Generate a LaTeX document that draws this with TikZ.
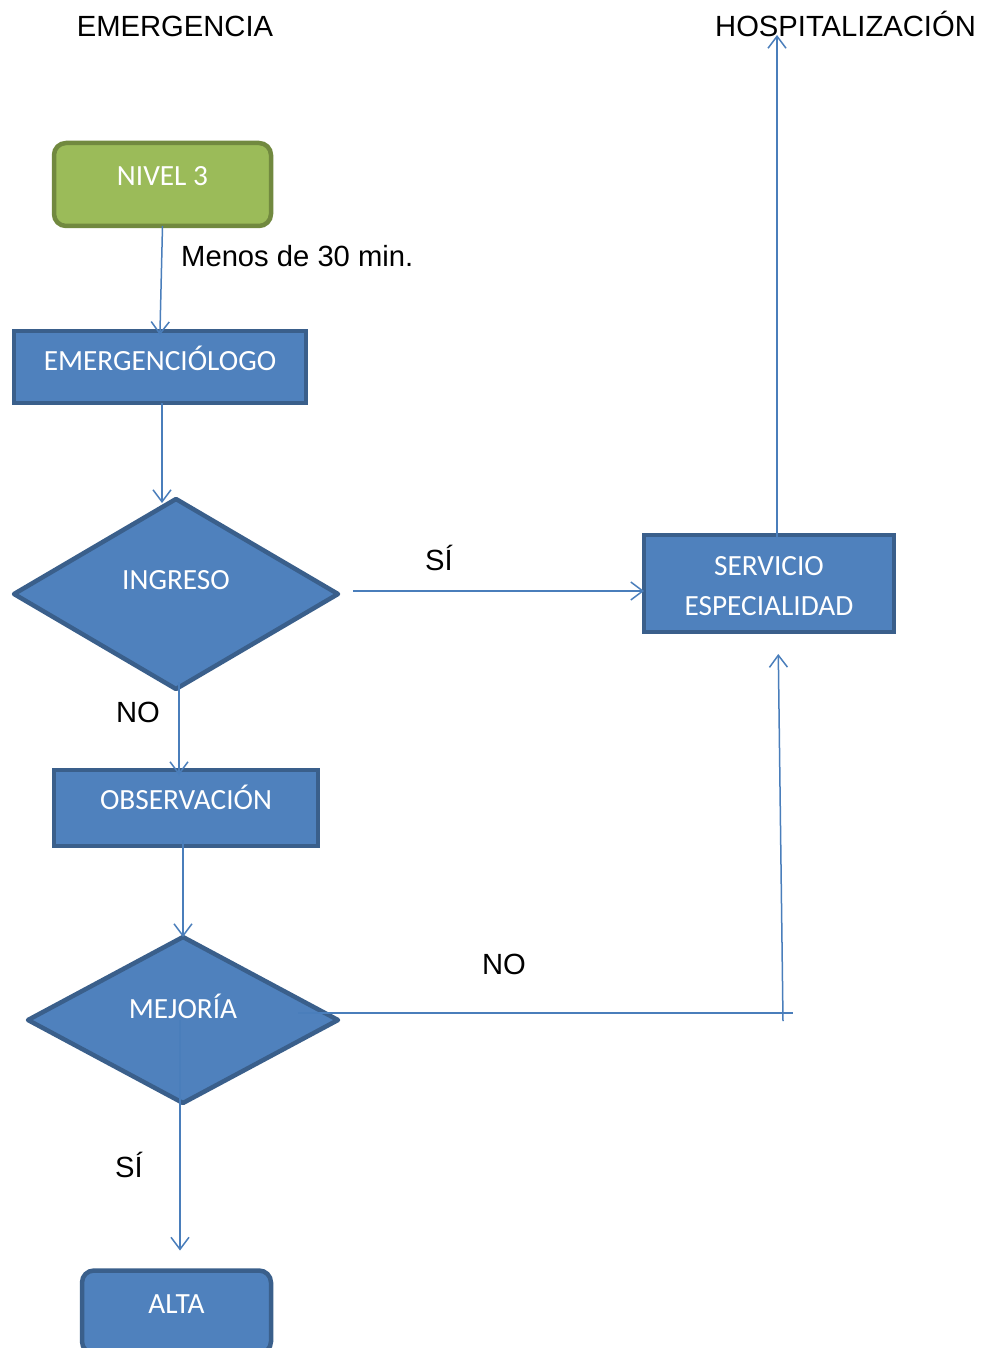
\documentclass[tikz,border=0pt]{standalone}
\usepackage{fontspec}
\setmainfont{Liberation Sans}
\newfontfamily\carlito{Carlito}
\usetikzlibrary{shapes.geometric,arrows.meta}

\definecolor{boxfill}{HTML}{4F81BD}
\definecolor{boxline}{HTML}{3A5F8B}
\definecolor{greenfill}{HTML}{9BBB59}
\definecolor{greenline}{HTML}{71893F}
\definecolor{linec}{HTML}{4A7EBB}

\tikzset{
  procbox/.style={draw=boxline, fill=boxfill, line width=4.5pt, inner sep=0pt, outer sep=0pt},
  startbox/.style={draw=greenline, fill=greenfill, line width=4.5pt, rounded corners=12pt, inner sep=0pt, outer sep=0pt},
  decision/.style={diamond, draw=boxline, fill=boxfill, line width=4.5pt, line join=round, inner sep=0pt, outer sep=0pt},
  boxtext/.style={anchor=base, text=white, inner sep=0pt, font=\carlito\fontsize{29.3}{34}\selectfont},
  plain/.style={anchor=base, inner sep=0pt, font=\fontsize{29.2}{34}\selectfont},
  conn/.style={draw=linec, line width=1.5pt, -{Straight Barb[length=12pt,width=18pt]}},
  connline/.style={draw=linec, line width=1.5pt}
}

\begin{document}
\begin{tikzpicture}[x=1pt,y=-1pt]
\useasboundingbox (0,0) rectangle (981,1348);
\clip (0,0) rectangle (981,1348);

% column headings
\node[plain] (emergencia) at (175,37) {EMERGENCIA};
\node[plain] (hosp) at (845.5,37) {HOSPITALIZACIÓN};

% shapes
\node[startbox, minimum width=217pt, minimum height=83pt] (nivel) at (162.5,184.5) {};
\node[boxtext] (nivelT) at (162.5,186) {NIVEL 3};

\node[procbox, minimum width=292pt, minimum height=72pt] (emerg) at (160,367) {};
\node[boxtext] (emergT) at (160,370) {EMERGENCIÓLOGO};

\node[decision, minimum width=324pt, minimum height=190pt] (ingreso) at (176,594) {};
\node[boxtext] (ingresoT) at (176,589) {INGRESO};

\node[procbox, minimum width=250pt, minimum height=97pt] (servicio) at (769,583.5) {};
\node[boxtext] (servicioT1) at (769,575) {SERVICIO};
\node[boxtext] (servicioT2) at (769,615) {ESPECIALIDAD};

\node[procbox, minimum width=264pt, minimum height=76pt] (obs) at (186,808) {};
\node[boxtext] (obsT) at (186,809) {OBSERVACIÓN};

\node[decision, minimum width=310pt, minimum height=166pt] (mejoria) at (183,1020) {};
\node[boxtext] (mejoriaT) at (183,1018) {MEJORÍA};

\node[procbox, rounded corners=12pt, minimum width=189pt, minimum height=83pt] (alta) at (176.5,1312) {};
\node[boxtext] (altaT) at (176.5,1313) {ALTA};

% free labels
\node[plain, anchor=base west] (menos) at (181,266) {Menos de 30 min.};
\node[plain] (si1) at (439,570) {SÍ};
\node[plain] (no1) at (138,722) {NO};
\node[plain] (no2) at (504,974) {NO};
\node[plain] (si2) at (129,1177) {SÍ};

% free ends of connectors
\coordinate (hosparrow) at (777,35);
\coordinate (noend) at (793,1013);
\coordinate (upfoot) at (783,1021);

% connectors
\draw[conn, shorten >=-4pt] (nivel.south) -- (emerg.north);
\draw[conn, shorten >=-4pt] ([xshift=2pt]emerg.south) -- ([xshift=2pt]emerg.south |- ingreso.north);
\draw[conn, shorten <=-7pt, shorten >=-5pt] ([xshift=3pt]ingreso.south) -- ([xshift=3pt]ingreso.south |- obs.north);
\draw[conn, shorten <=-6pt] ([xshift=-3pt]obs.south) -- (mejoria.north);
\draw[conn, shorten >=20pt] ([xshift=-3pt]mejoria.center) -- ([xshift=-3pt]mejoria.center |- alta.north);
\draw[conn] ([xshift=15pt,yshift=3pt]ingreso.east) -- ([yshift=3pt]ingreso.east -| servicio.west);
\draw[conn, shorten <=-2pt] ([xshift=8pt]servicio.north) -- (hosparrow);
\draw[connline] ([xshift=115pt,yshift=7pt]mejoria.center) -- (noend);
\draw[conn, shorten >=22pt] (upfoot) -- ([xshift=9pt]servicio.south);
\end{tikzpicture}
\end{document}
